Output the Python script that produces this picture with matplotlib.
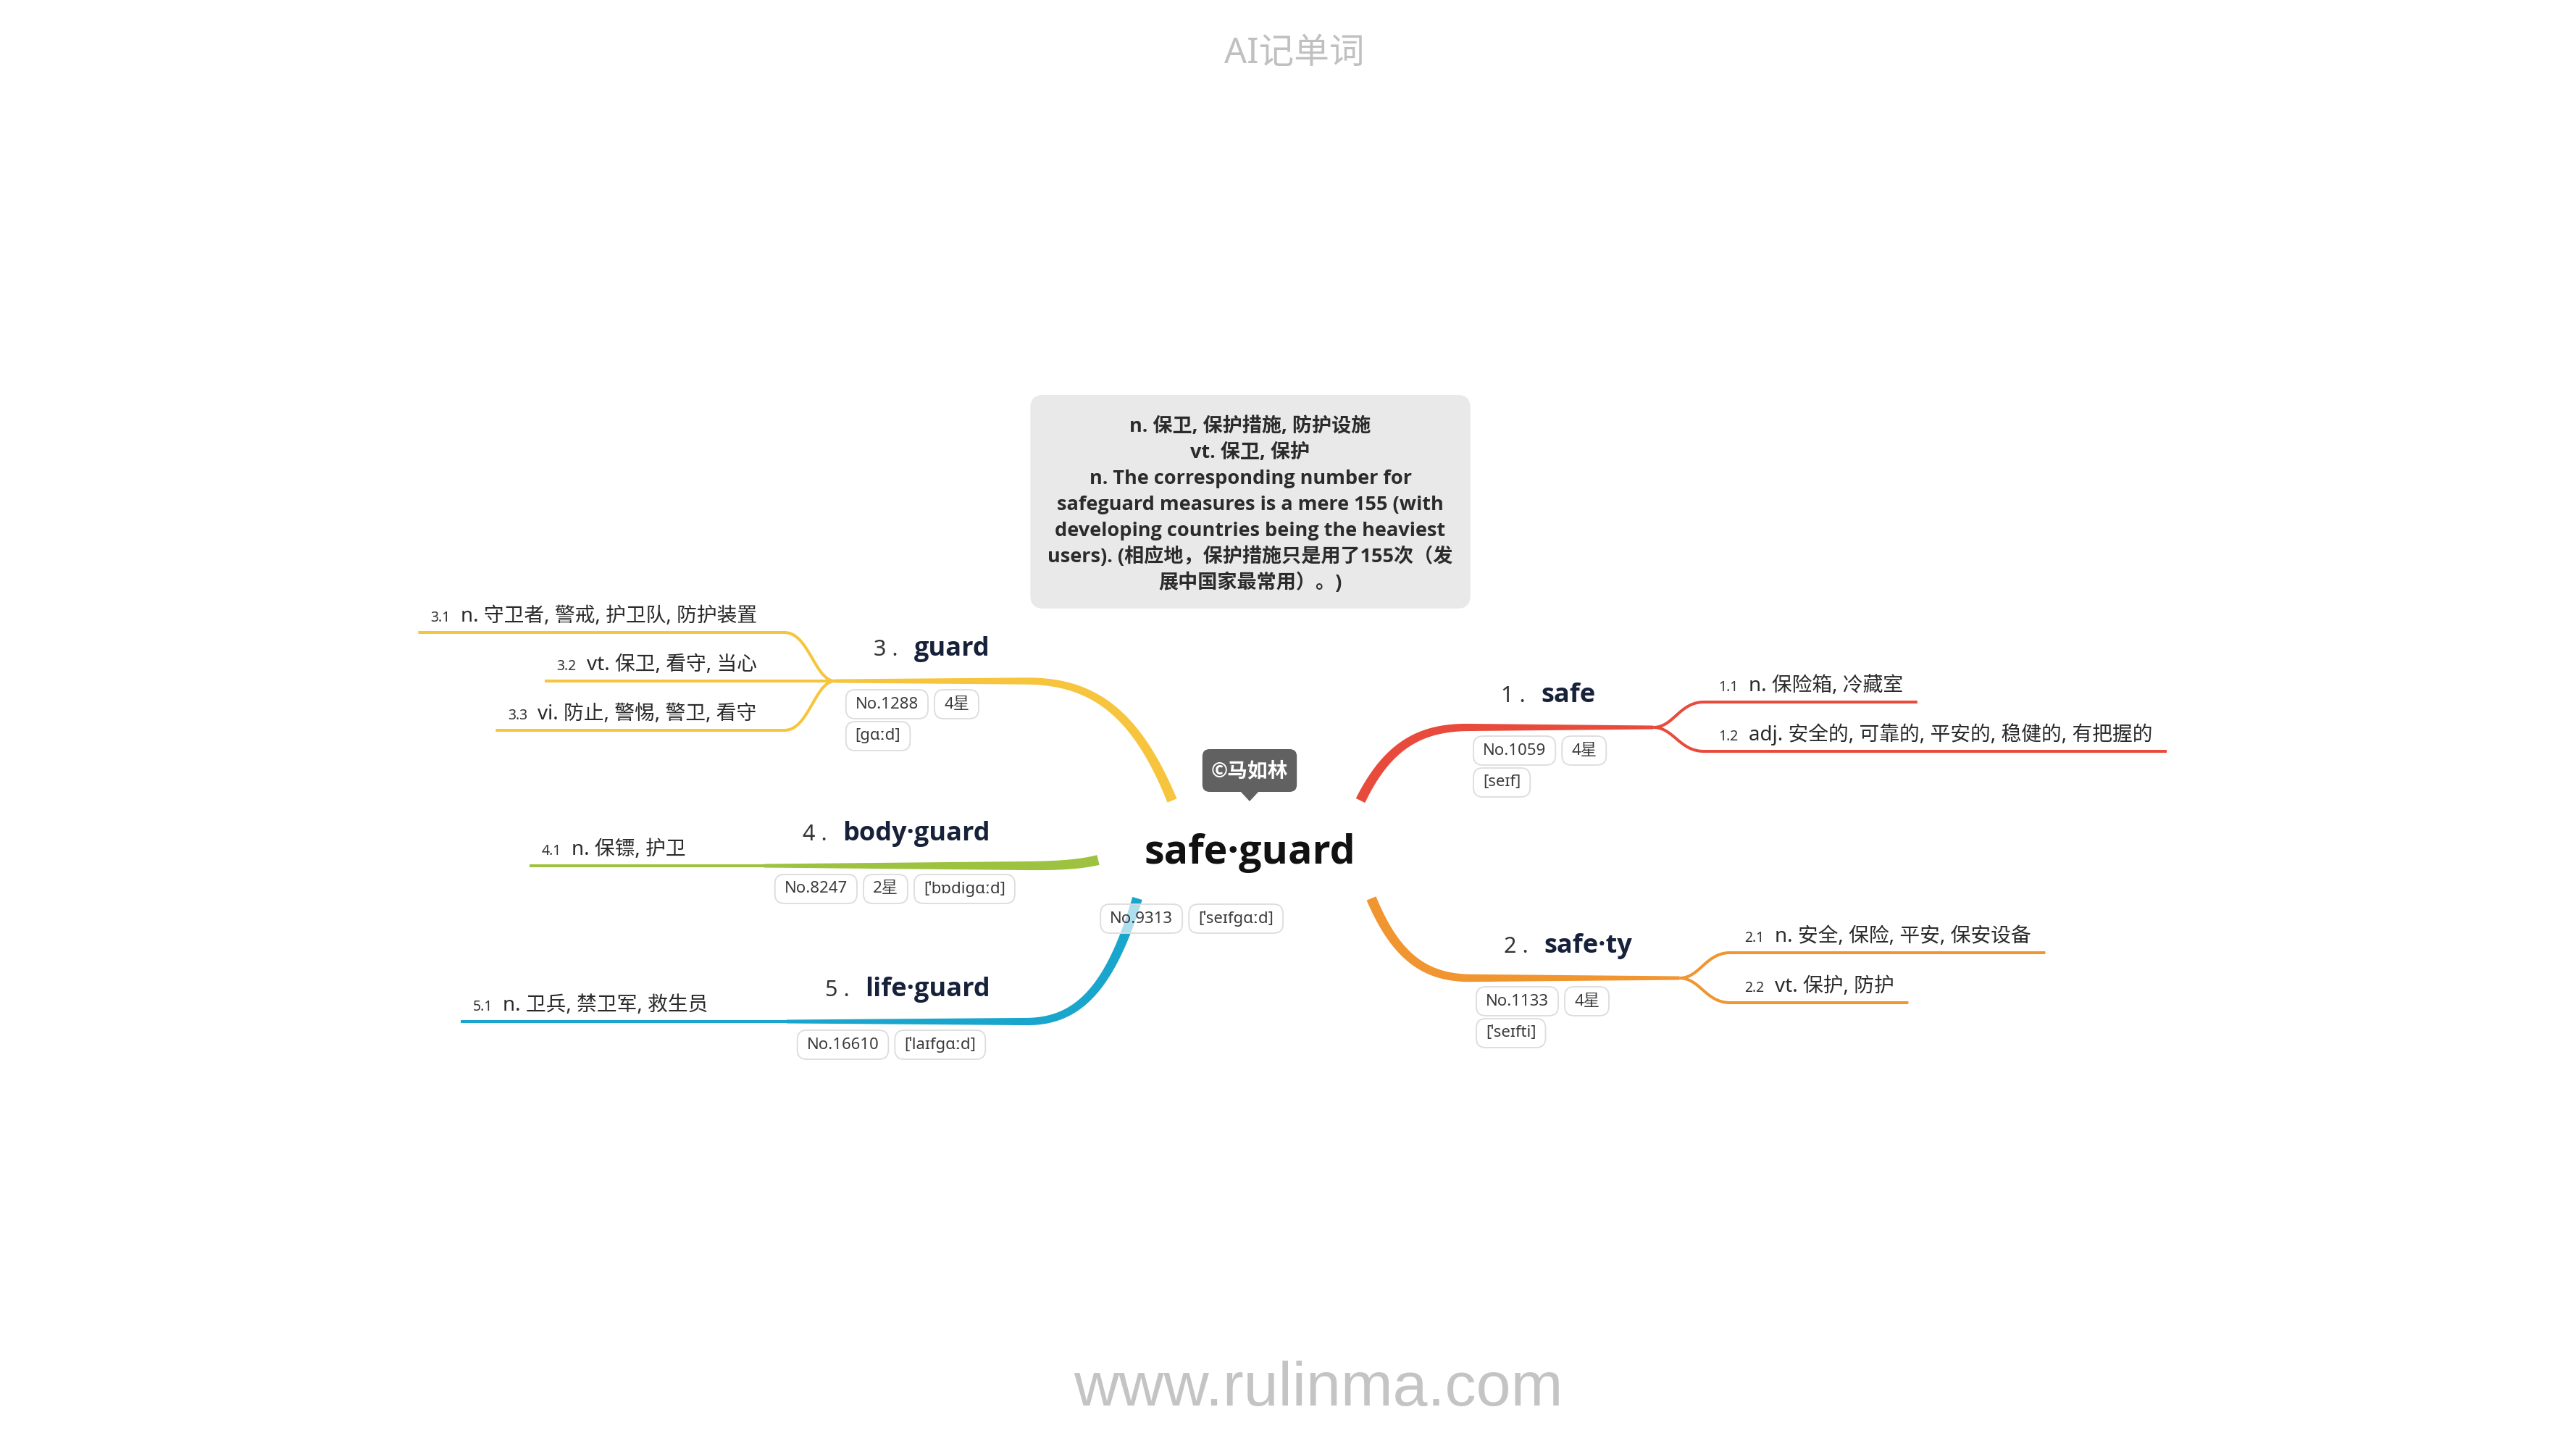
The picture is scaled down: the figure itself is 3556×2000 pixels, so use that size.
import os
import matplotlib
matplotlib.use('Agg')
import matplotlib.pyplot as plt
from matplotlib import font_manager as fm
from matplotlib.patches import FancyBboxPatch, Polygon
import numpy as np

plt.rcParams['font.family'] = ['Noto Sans', 'Noto Sans CJK SC', 'DejaVu Sans']

W, H = 3556, 2000

# ---- content -------------------------------------------------------------
title_text = 'AI记单词'
footer_text = 'www.rulinma.com'
author_text = '©马如林'

root_word = 'safe·guard'
root_tags = ['No.9313', '[ˈseɪfgɑːd]']
definition_lines = [
    'n. 保卫, 保护措施, 防护设施',
    'vt. 保卫, 保护',
    'n. The corresponding number for',
    'safeguard measures is a mere 155 (with',
    'developing countries being the heaviest',
    'users). (相应地，保护措施只是用了155次（发',
    '展中国家最常用）。)',
]

branch_ids = ['1', '2', '3', '4', '5']
branch_words = ['safe', 'safe·ty', 'guard', 'body·guard', 'life·guard']
branch_ranks = ['No.1059', 'No.1133', 'No.1288', 'No.8247', 'No.16610']
branch_stars = ['4星', '4星', '4星', '2星', '']
branch_phonetics = ['[seɪf]', '[ˈseɪfti]', '[gɑːd]', '[ˈbɒdigɑːd]', '[ˈlaɪfgɑːd]']
branch_meanings = [
    ['n. 保险箱, 冷藏室', 'adj. 安全的, 可靠的, 平安的, 稳健的, 有把握的'],
    ['n. 安全, 保险, 平安, 保安设备', 'vt. 保护, 防护'],
    ['n. 守卫者, 警戒, 护卫队, 防护装置', 'vt. 保卫, 看守, 当心', 'vi. 防止, 警惕, 警卫, 看守'],
    ['n. 保镖, 护卫'],
    ['n. 卫兵, 禁卫军, 救生员'],
]

# ---- layout (pixels, y down) --------------------------------------------
branch_colors = ['#e84b3c', '#f0952f', '#f6c53d', '#9cc23f', '#1aa6cc']
branch_side = [1, 1, -1, -1, -1]
branch_root = [(1878, 1105), (1893, 1240), (1618, 1105), (1516, 1187), (1570, 1240)]
branch_line_y = [1004, 1350, 940, 1195, 1410]
branch_title_x = [2072, 2076, 1366, 1367, 1367]
branch_sub_y = [[969, 1037], [1315, 1384], [873, 940, 1008], [1195], [1410]]

TEXT_DARK = '#17213a'
TAG_FONT = 16


def pick_bold_family():
    # first sans family that really ships a bold face
    for name in ['Open Sans', 'Noto Sans', 'Lato', 'Roboto', 'Inter']:
        try:
            path = fm.findfont(fm.FontProperties(family=name, weight='bold'),
                               fallback_to_default=False)
        except ValueError:
            continue
        if 'bold' in os.path.basename(path).lower():
            return name
    return 'DejaVu Sans'


BOLD = [pick_bold_family(), 'Noto Sans CJK SC', 'DejaVu Sans']

fig = plt.figure(figsize=(W / 100, H / 100), dpi=100)
ax = fig.add_axes([0, 0, 1, 1])
ax.set_xlim(0, W)
ax.set_ylim(H, 0)
ax.axis('off')
renderer = fig.canvas.get_renderer()


def ext(t):
    bb = t.get_window_extent(renderer)
    (x0, y0), (x1, y1) = ax.transData.inverted().transform([[bb.x0, bb.y0], [bb.x1, bb.y1]])
    return x0, x1, min(y0, y1), max(y0, y1)


def bezier(p0, p1, p2, p3, n=80):
    t = np.linspace(0, 1, n)[:, None]
    p0, p1, p2, p3 = (np.asarray(p, float) for p in (p0, p1, p2, p3))
    return (1 - t) ** 3 * p0 + 3 * (1 - t) ** 2 * t * p1 + 3 * (1 - t) * t ** 2 * p2 + t ** 3 * p3


def ribbon(pts, w0, w1, color):
    pts = np.asarray(pts, float)
    seg = np.diff(pts, axis=0)
    d = np.vstack([seg[:1], (seg[:-1] + seg[1:]) / 2, seg[-1:]])
    d /= np.hypot(d[:, 0], d[:, 1])[:, None]
    nrm = np.column_stack([-d[:, 1], d[:, 0]])
    s = np.concatenate([[0], np.cumsum(np.hypot(seg[:, 0], seg[:, 1]))])
    w = w0 + (w1 - w0) * s / s[-1]
    poly = np.vstack([pts + nrm * w[:, None] / 2, (pts - nrm * w[:, None] / 2)[::-1]])
    ax.add_patch(Polygon(poly, closed=True, fc=color, ec='none', zorder=1))


def tag_row(items, x_start, y_top, wrap, h=40, pad=13, gap=9, pitch=44):
    x, y = x_start, y_top
    x_max = x_start
    for item in items:
        t = ax.text(x + pad, y + h / 2, item, ha='left', va='center',
                    fontsize=TAG_FONT, color='#3a3a3a', zorder=4)
        tw = ext(t)[1] - ext(t)[0]
        w = max(tw + 2 * pad, 60)
        if x > x_start and (x + w - x_start) > wrap:
            x, y = x_start, y + pitch
            t.set_position((x + pad, y + h / 2))
        ax.add_patch(FancyBboxPatch((x, y), w, h, boxstyle='round,pad=0,rounding_size=13',
                                    fc=(1, 1, 1, 0.65), ec='#dcdcdc', lw=1.3, zorder=3))
        x_max = max(x_max, x + w)
        x += w + gap
    return x_start, x_max


# ---- header / footer ------------------------------------------------------
ax.text(1787, 74, title_text, ha='center', va='center', fontsize=35, color='#c0c0c0')
ax.text(1820, 1940, footer_text, ha='center', va='baseline', fontsize=62,
        family=['Liberation Sans', 'DejaVu Sans'], color='#c4c4c4')

# ---- definition box -------------------------------------------------------
def_x, def_b0, def_step = 1726, 596, 36
x0s, x1s = [], []
for k, line in enumerate(definition_lines):
    t = ax.text(def_x, def_b0 + k * def_step, line, ha='center', va='baseline',
                fontsize=19.5, weight='bold', family=BOLD, color='#2b2b2b', zorder=3)
    e = ext(t)
    x0s.append(e[0])
    x1s.append(e[1])
bx0, bx1 = min(x0s) - 24, max(x1s) + 24
by0, by1 = def_b0 - 51, def_b0 + (len(definition_lines) - 1) * def_step + 28
ax.add_patch(FancyBboxPatch((bx0, by0), bx1 - bx0, by1 - by0,
                            boxstyle='round,pad=0,rounding_size=18',
                            fc='#e9e9e9', ec='none', zorder=2))

# ---- root node ------------------------------------------------------------
root_x, root_base = 1725, 1192
rt = ax.text(root_x, root_base, root_word, ha='center', va='baseline',
             fontsize=40, weight='bold', family=BOLD, color='#111111', zorder=4)
re_ = ext(rt)
tag_row(root_tags, re_[0] - 60, root_base + 56, wrap=400)

at = ax.text(root_x, root_base - 127, author_text, ha='center', va='center',
             fontsize=20, weight='bold', family=BOLD, color='white', zorder=6)
ae = ext(at)
aw = ae[1] - ae[0] + 24
ax.add_patch(FancyBboxPatch((root_x - aw / 2, root_base - 158), aw, 59,
                            boxstyle='round,pad=0,rounding_size=10',
                            fc='#616161', ec='none', zorder=5))
ax.add_patch(Polygon([(root_x - 13, root_base - 100), (root_x + 13, root_base - 100),
                      (root_x, root_base - 86)], closed=True, fc='#616161', ec='none', zorder=5))

# ---- branches -------------------------------------------------------------
for i in range(len(branch_ids)):
    side = branch_side[i]
    color = branch_colors[i]
    ly = branch_line_y[i]
    tx = branch_title_x[i]
    base = ly - 35

    if side > 0:
        tn = ax.text(tx, base, f'{branch_ids[i]} .', ha='left', va='baseline',
                     fontsize=22, color='#333333', zorder=4)
        tw = ax.text(ext(tn)[1] + 22, base, branch_words[i], ha='left', va='baseline',
                     fontsize=26, weight='bold', family=BOLD, color=TEXT_DARK, zorder=4)
        t_x0, t_x1 = tx, ext(tw)[1]
    else:
        tw = ax.text(tx, base, branch_words[i], ha='right', va='baseline',
                     fontsize=26, weight='bold', family=BOLD, color=TEXT_DARK, zorder=4)
        tn = ax.text(ext(tw)[0] - 22, base, f'{branch_ids[i]} .', ha='right', va='baseline',
                     fontsize=22, color='#333333', zorder=4)
        t_x0, t_x1 = ext(tn)[0], tx

    items = [v for v in (branch_ranks[i], branch_stars[i], branch_phonetics[i]) if v]
    g_x0, g_x1 = tag_row(items, t_x0 - 38, ly + 12, wrap=(t_x1 - t_x0) + 80)
    n_x0, n_x1 = min(t_x0, g_x0), max(t_x1, g_x1)

    if side > 0:
        curve_end = t_x0 - 45
        junction = n_x1 + 65
    else:
        curve_end = t_x1 + 50
        junction = n_x0 - 15

    rx, ry = branch_root[i]
    curve = bezier((rx, ry), (rx + (curve_end - rx) * 0.25, ry + (ly - ry) * 0.75),
                   (rx + (curve_end - rx) * 0.55, ly), (curve_end, ly))
    flat = np.column_stack([np.linspace(curve_end, junction, 40), np.full(40, ly)])[1:]
    ribbon(np.vstack([curve, flat]), 14, 5, color)

    for k, (ys, meaning) in enumerate(zip(branch_sub_y[i], branch_meanings[i])):
        num = f'{branch_ids[i]}.{k + 1}'
        sb = ys - 15
        if side > 0:
            nt = ax.text(junction + 90, sb, num, ha='left', va='baseline',
                         fontsize=14, color='#333333', zorder=4)
            mt = ax.text(ext(nt)[1] + 14, sb, meaning, ha='left', va='baseline',
                         fontsize=20, color='#2a2a2a', zorder=4)
            far = ext(mt)[1] + 20
        else:
            mt = ax.text(junction - 108, sb, meaning, ha='right', va='baseline',
                         fontsize=20, color='#2a2a2a', zorder=4)
            nt = ax.text(ext(mt)[0] - 14, sb, num, ha='right', va='baseline',
                         fontsize=14, color='#333333', zorder=4)
            far = ext(nt)[0] - 17
        if abs(ys - ly) < 1:
            pts = np.array([[junction, ly], [far, ly]])
        else:
            xe = junction + side * 70
            c = bezier((junction, ly), (junction + side * 28, ly), (junction + side * 36, ys), (xe, ys), 50)
            pts = np.vstack([c, [[far, ys]]])
        ax.plot(pts[:, 0], pts[:, 1], color=color, lw=2.9, solid_capstyle='butt', zorder=1)

fig.savefig('out.png', dpi=100, facecolor='white')
